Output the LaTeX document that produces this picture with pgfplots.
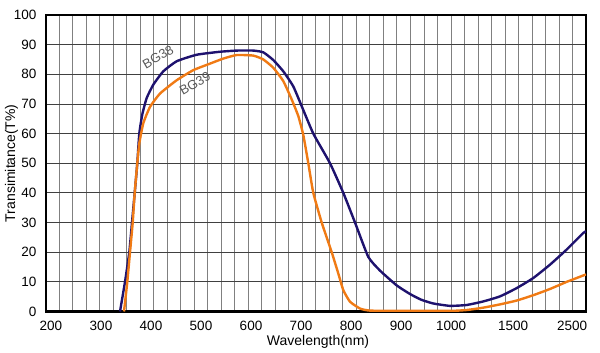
\documentclass[border=0pt]{standalone}
\usepackage{fontspec}
\setmainfont{Liberation Sans}
\usepackage{pgfplots}
\pgfplotsset{compat=1.18}
\definecolor{navy}{RGB}{30,18,110}
\definecolor{orng}{RGB}{240,122,20}
\begin{document}
\begin{tikzpicture}
\useasboundingbox (-45.7pt,-41.5pt) rectangle (554.3pt,311.5pt);
% grid layer
\begin{axis}[at={(0,0)},anchor=south west, scale only axis,
  width=540.3pt, height=296.5pt,
  xmin=0,xmax=40,ymin=0,ymax=100,
  xtick={1,...,39}, ytick={10,20,...,90},
  xticklabels={}, yticklabels={},
  major tick length=0pt, axis line style={draw=none},
  grid=major,
  x grid style={black!50, line width=0.8pt},
  y grid style={black!75, line width=0.8pt}]
\addplot[draw=none] coordinates {(0,0)};
\end{axis}
% data layer
\begin{axis}[at={(0,0)},anchor=south west, scale only axis,
  width=540.3pt, height=296.5pt,
  x coord trafo/.code={\pgfmathparse{#1<=1000 ? (#1-200)/100 : (#1<=1500 ? 8+(#1-1000)/500*1.24 : 9.24+(#1-1500)/1000*1.18)}},
  xmin=189.4, xmax=2737, ymin=0, ymax=100,
  xtick={200,300,400,500,600,700,800,900,1000,1500,2500},
  xticklabels={200,300,400,500,600,700,800,900,1000,1500,2500},
  ytick={0,10,...,100},
  major tick length=0pt,
  axis line style={line width=2.2pt},
  /pgf/number format/assume math mode=true,
  tick label style={font=\fontsize{13.5}{14}\selectfont, inner sep=0pt},
  xticklabel style={yshift=-9pt},
  yticklabel style={xshift=-9pt},
  xlabel={Wavelength(nm)}, ylabel={Transimitance(T\%)},
  label style={font=\fontsize{14}{15}\selectfont},
  xlabel style={at={(axis description cs:0.504,-0.113)}, anchor=base},
  ylabel style={at={(axis description cs:-0.0633,0.5)}, anchor=center},
  every axis plot/.append style={line width=2.4pt, smooth, tension=0.3}]
\addplot[navy] coordinates {
(338,0) (348,10) (356.6,20) (362,30) (367.4,40) (372.6,50) (376.6,60) (382.6,66.5)
(391.4,72) (404.6,76.5) (424.6,81) (451.4,84.4) (491.4,86.6) (538,87.6) (571.4,88)
(604.6,88) (624.6,87.4) (644.6,84.8) (664.6,81) (684.6,75.9) (702,69) (724.6,60)
(758,50) (784.6,40) (808,30) (834.6,18.4) (858,13.8) (891.4,8.8) (918,5.9) (940,4.0)
(964.6,2.7) (998,1.9) (1126.6,2.2) (1260.5,3.4) (1395,5.1) (1562.7,7.9) (1844,11.3)
(2127,15.8) (2410,20.9) (2692,26.5) (2737,27)
};
\addplot[orng] coordinates {
(346,0) (352.6,10) (358,20) (363.4,30) (367.4,40) (372.6,50) (376.6,56.7) (384.6,63.5)
(398,69) (418,73.5) (451.4,78) (484.6,81.4) (518,83.6) (544.6,85.3) (571.4,86.5)
(604.6,86.3) (624.6,85) (644.6,82.2) (664.6,77.7) (681.4,71.5) (694.6,65.9) (704.6,59.5)
(714.6,50) (724.6,40) (741.4,30) (761.4,20) (774.6,12.8) (784.6,7.2) (798,3.3)
(818,1) (838,0.3) (900,0.2) (998,0.2) (1126.6,0.5) (1260.5,1.3) (1395,2.4) (1562.7,3.7)
(1844,5.5) (2127,7.6) (2410,10) (2737,12.5)
};
\node[rotate=30, text=black!65, font=\fontsize{13}{14}\selectfont] at (rel axis cs:0.208,0.858) {BG38};
\node[rotate=30, text=black!65, font=\fontsize{13}{14}\selectfont] at (rel axis cs:0.2763,0.768) {BG39};
\end{axis}
\end{tikzpicture}
\end{document}
